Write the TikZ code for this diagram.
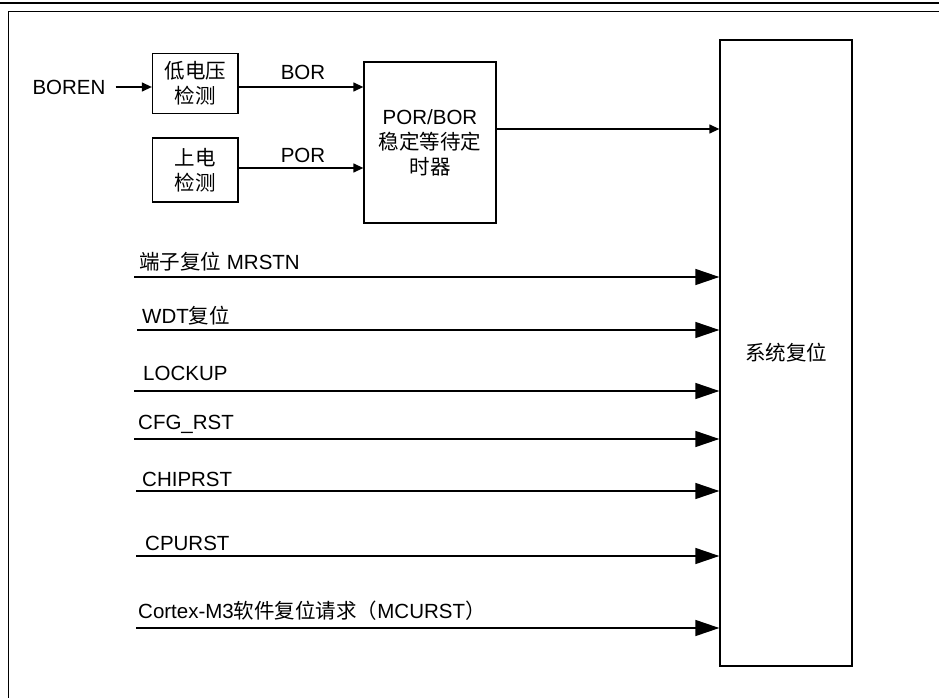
\documentclass[tikz,border=0pt]{standalone}
\usepackage{fontspec}
\setmainfont{Liberation Sans}
\newfontfamily\cjk{Noto Sans CJK SC}
\usetikzlibrary{arrows.meta}
\begin{document}
\begin{tikzpicture}[x=1bp,y=-1bp,
  txt/.style={font=\fontsize{20.5bp}{25bp}\selectfont, inner sep=0pt},
  blk/.style={draw, line width=1.3bp, txt, align=center},
  small/.style={-{Triangle[length=10bp,width=9bp]}, line width=1.3bp},
  big/.style={-{Triangle[length=24bp,width=16bp]}, line width=1.3bp},
  lab/.style={txt, anchor=base west}]
\useasboundingbox (0,0) rectangle (939,698);
% frame
\draw[line width=1.6bp] (0,3.3) -- (939,3.3);
\draw[line width=1.5bp] (939,11.5) -- (8.5,11.5) -- (8.5,698);
% blocks
\node[blk, minimum width=85.5bp, minimum height=60bp] (lv) at (195.25,83.5) {{\cjk 低电压}\\{\cjk 检测}};
\node[blk, minimum width=85.5bp, minimum height=64bp] (pd) at (195.25,170) {{\cjk 上电}\\{\cjk 检测}};
\node[blk, minimum width=132bp, minimum height=161bp] (timer) at (430,142.5) {POR/BOR\\{\cjk 稳定等待定}\\{\cjk 时器}};
\node[blk, minimum width=132bp, minimum height=626bp] (sys) at (786,353) {{\cjk 系统复位}};
% top signals
\node[txt] (boren) at (69,87) {BOREN};
\coordinate (bory) at (0,87);
\coordinate (pory) at (0,168);
\coordinate (outy) at (0,129);
\draw[small] ([xshift=10bp]boren.east) -- (lv.west |- bory);
\draw[small] (lv.east |- bory) -- (timer.west |- bory);
\draw[small] (pd.east |- pory) -- (timer.west |- pory);
\draw[small] (timer.east |- outy) -- (sys.west |- outy);
\node[txt] (borl) at (303,72) {BOR};
\node[txt] (porl) at (303,155) {POR};
% reset signals
\coordinate (s1) at (134,277);
\coordinate (s2) at (137,330);
\coordinate (s3) at (134,391);
\coordinate (s4) at (134,439);
\coordinate (s5) at (136,491);
\coordinate (s6) at (136,556);
\coordinate (s7) at (136,628);
\node[lab] (l1) at (139,269.5) {{\cjk 端子复位} MRSTN};
\node[lab] (l2) at (142,323.5) {WDT{\cjk 复位}};
\node[lab] (l3) at (143,380) {LOCKUP};
\node[lab] (l4) at (138,429.5) {CFG\_RST};
\node[lab] (l5) at (142,486) {CHIPRST};
\node[lab] (l6) at (145,550) {CPURST};
\node[lab] (l7) at (138,618) {Cortex-M3{\cjk 软件复位请求（}MCURST{\cjk ）}};
\foreach \s in {s1,s2,s3,s4,s5,s6,s7}
  \draw[big] (\s) -- (\s -| sys.west);
\end{tikzpicture}
\end{document}
